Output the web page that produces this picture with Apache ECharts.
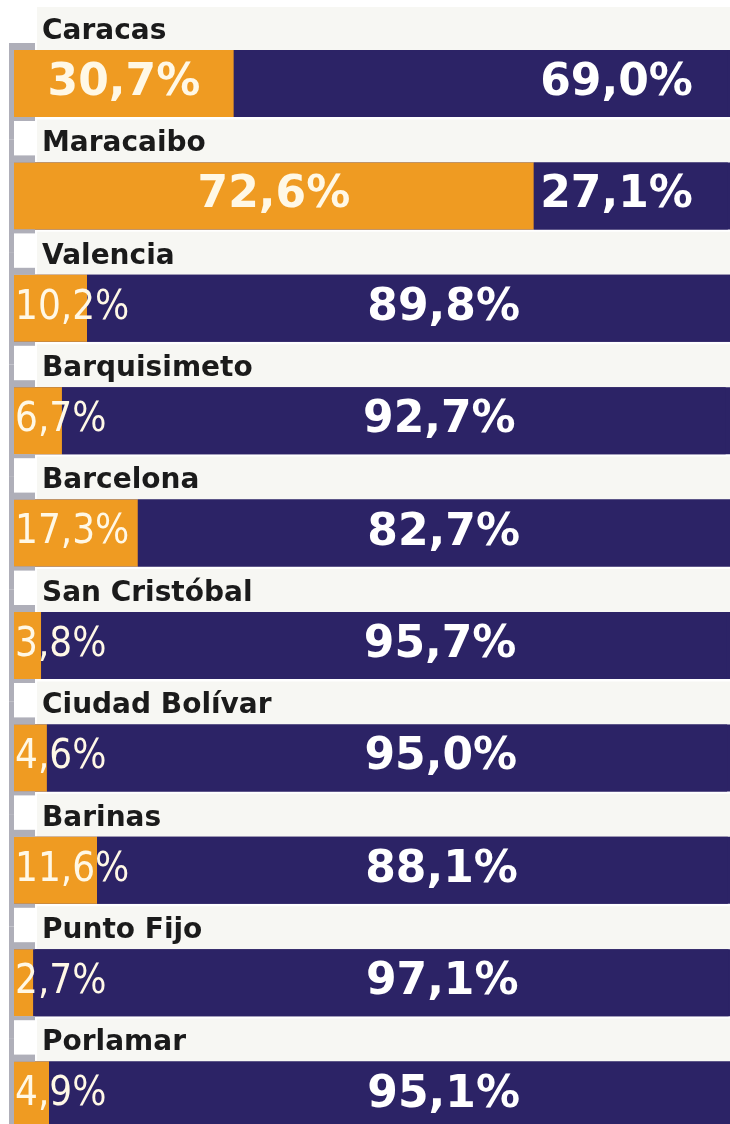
<!DOCTYPE html>
<html lang="es">
  <head>
    <meta charset="UTF-8" />
    <title>Ciudades - porcentajes</title>
    <script src="https://cdn.jsdelivr.net/npm/echarts@6/dist/echarts.min.js"></script>
    <style>
      html, body { margin: 0; padding: 0; background: #ffffff; }
    </style>
  </head>
  <body>
    <div id="main" style="width: 730px; height: 1124px"></div>
    <script type="text/javascript">
      // Data
      const cities = ["Caracas", "Maracaibo", "Valencia", "Barquisimeto", "Barcelona",
        "San Cristóbal", "Ciudad Bolívar", "Barinas", "Punto Fijo", "Porlamar"];
      const orangeValues = [30.7, 72.6, 10.2, 6.7, 17.3, 3.8, 4.6, 11.6, 2.7, 4.9];
      const navyValues = [69.0, 27.1, 89.8, 92.7, 82.7, 95.7, 95.0, 88.1, 97.1, 95.1];

      const ORANGE = "#ef9b22";
      const NAVY = "#2c2366";
      const GREY = "#afafb9";
      const BAR_H = 67;

      const fmt = (v) => v.toFixed(1).replace(".", ",") + "%";

      let myChart = echarts.init(document.getElementById("main"));

      // big shares get a centred label, small ones a narrow label on the left
      const orangeData = orangeValues.map((v) => ({
        value: v,
        label: v > 25
          ? { position: "inside", fontSize: 44, fontFamily: "DejaVu Sans", fontWeight: "bold" }
          : { position: "insideLeft", distance: 1, fontSize: 40,
              fontFamily: "DejaVu Sans Condensed, Liberation Sans Narrow, DejaVu Sans", fontWeight: "normal" },
      }));

      const navyData = navyValues.map((v, i) => ({
        value: v,
        label: { distance: orangeValues[i] > 25 ? 35 : 210 },
      }));

      // grey rule on the left with little ticks above and below each bar
      function renderRule(params, api) {
        const p = api.coord([0, api.value(1)]);
        const band = api.size([0, 1])[1];
        const idx = params.dataIndex;
        const top = idx === 0 ? p[1] - BAR_H / 2 - 7 : p[1] - band / 2;
        const style = { fill: GREY };
        return {
          type: "group",
          children: [
            { type: "rect", shape: { x: p[0] - 5, y: top, width: 5, height: p[1] + band / 2 - top }, style },
            { type: "rect", shape: { x: p[0] - 5, y: p[1] - BAR_H / 2 - 7, width: 26, height: 7 }, style },
            { type: "rect", shape: { x: p[0] - 5, y: p[1] + BAR_H / 2, width: 26, height: 4 }, style },
          ],
        };
      }

      let options = {
        animation: false,
        grid: { left: 14, right: 0, top: 27.3, height: 1124, outerBoundsMode: "none" },
        xAxis: { type: "value", min: 0, max: 100, show: false },
        yAxis: {
          type: "category",
          data: cities,
          inverse: true,
          axisLine: { show: false },
          axisTick: { show: false },
          splitLine: { show: false },
          axisLabel: {
            inside: true,
            interval: 0,
            margin: 23,
            verticalAlign: "bottom",
            formatter: (v) => "{n|" + v + "}\n{g|}",
            rich: {
              n: {
                backgroundColor: "#f7f7f3",
                width: 688,
                height: 41,
                lineHeight: 41,
                padding: [4, 0, 0, 5],
                fontSize: 28,
                fontWeight: "bold",
                fontFamily: "DejaVu Sans",
                color: "#1b1b1b",
              },
              g: { height: 33.5, lineHeight: 33.5 },
            },
          },
        },
        series: [
          {
            name: "naranja",
            type: "bar",
            stack: "total",
            barWidth: BAR_H,
            data: orangeData,
            itemStyle: { color: ORANGE },
            showBackground: true,
            backgroundStyle: { color: NAVY },
            label: { show: true, color: "#fff8e6", formatter: (p) => fmt(p.value) },
          },
          {
            name: "azul",
            type: "bar",
            stack: "total",
            barWidth: BAR_H,
            data: navyData,
            itemStyle: { color: NAVY },
            label: {
              show: true,
              position: "insideRight",
              color: "#ffffff",
              fontSize: 44,
              fontWeight: "bold",
              fontFamily: "DejaVu Sans",
              formatter: (p) => fmt(p.value),
            },
          },
          {
            name: "regla",
            type: "custom",
            data: cities.map((c) => [0, c]),
            encode: { x: 0, y: 1 },
            renderItem: renderRule,
            silent: true,
            z: 5,
          },
        ],
      };

      myChart.setOption(options);
    </script>
  </body>
</html>
